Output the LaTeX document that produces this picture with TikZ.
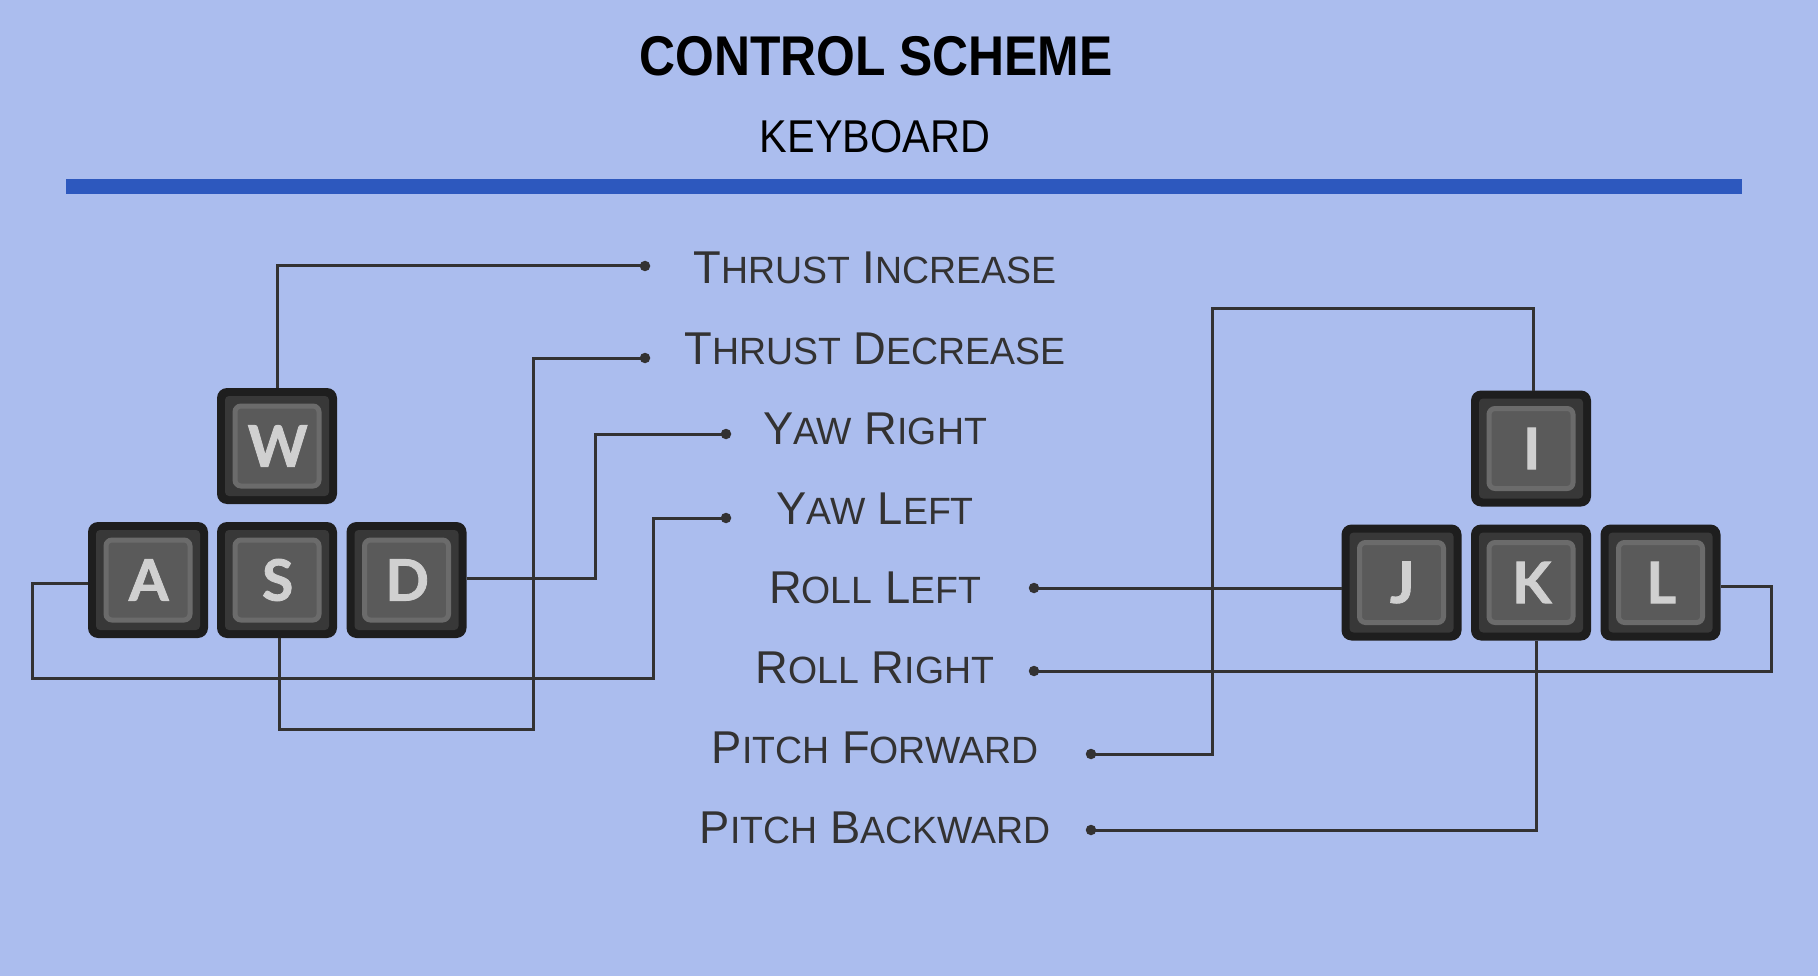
\documentclass[tikz,border=0pt]{standalone}
\usepackage{fontspec}
\setmainfont[FakeStretch=0.985]{Liberation Sans}
\newfontfamily\titlefont[FakeStretch=0.89]{Liberation Sans}
\newfontfamily\subtitlefont[FakeStretch=0.9]{Liberation Sans}
\newfontfamily\capfont[BoldFeatures={FakeBold=1.5}]{Lato}
\definecolor{pagebg}{HTML}{ABBDEE}
\definecolor{rulecol}{HTML}{2D58BE}
\definecolor{wirecol}{HTML}{333232}
\definecolor{keyrim}{HTML}{1E1E1E}
\definecolor{keyside}{HTML}{383838}
\definecolor{keyedge}{HTML}{6B6B6B}
\definecolor{keyface}{HTML}{5A5A5A}
\definecolor{keyletter}{HTML}{D0D0D0}
% small part of the small caps
\newcommand{\sm}[1]{{\fontsize{38}{40}\selectfont #1}}
% one key: rim, side, face with the letter
\newcommand{\keycap}[3]{%
  \node[keyouter] (key#1) at (#2) {};
  \node[keymiddle] at (#2) {};
  \node[keyinner] at (#2) {\hspace{1.5pt}#3};
}
\tikzset{
  keyouter/.style={rectangle, fill=keyrim, rounded corners=10, minimum width=120, minimum height=116, inner sep=0, outer sep=0},
  keymiddle/.style={rectangle, fill=keyside, rounded corners=4, minimum width=104, minimum height=100, inner sep=0, outer sep=0},
  keyinner/.style={rectangle, draw=keyedge, line width=5, fill=keyface, rounded corners=6, minimum width=84, minimum height=80, inner sep=0, outer sep=0,
    text=keyletter, font=\capfont\bfseries\fontsize{57}{57}\selectfont},
  wire/.style={draw=wirecol, line width=3},
  enddot/.style={circle, fill=wirecol, minimum size=10.5, inner sep=0, outer sep=0},
  action/.style={anchor=base, text=wirecol, font=\fontsize{46}{48}\selectfont, inner sep=0},
}
\begin{document}
\begin{tikzpicture}[x=1pt, y=-1pt]
    \useasboundingbox (0,0) rectangle (1818,976);
    \fill[pagebg] (0,0) rectangle (1818,976);

    % Heading
    \node[anchor=base, inner sep=0, font=\titlefont\bfseries\fontsize{56}{58}\selectfont] (title) at (876,76) {CONTROL SCHEME};
    \node[anchor=base, inner sep=0, font=\subtitlefont\fontsize{46}{48}\selectfont] (subtitle) at (875,153) {KEYBOARD};
    \fill[rulecol] (66,179) rectangle (1742,194);

    % Left keys
    \keycap{W}{277,446}{W}
    \keycap{A}{148,580}{A}
    \keycap{S}{277,580}{S}
    \keycap{D}{406.5,580}{D}

    % Right keys
    \keycap{I}{1531,448.5}{I}
    \keycap{J}{1401.5,582.5}{J}
    \keycap{K}{1531,582.5}{K}
    \keycap{L}{1660.5,582.5}{L}

    % Actions
    \node[action] (thrustinc) at (875,284) {T\sm{HRUST} I\sm{NCREASE}};
    \node[action] (thrustdec) at (875,364) {T\sm{HRUST} D\sm{ECREASE}};
    \node[action] (yawright) at (875,444) {Y\sm{AW} R\sm{IGHT}};
    \node[action] (yawleft) at (875,524) {Y\sm{AW} L\sm{EFT}};
    \node[action] (rollleft) at (875,603.5) {R\sm{OLL} L\sm{EFT}};
    \node[action] (rollright) at (875,683.5) {R\sm{OLL} R\sm{IGHT}};
    \node[action] (pitchfwd) at (875,763.5) {P\sm{ITCH} F\sm{ORWARD}};
    \node[action] (pitchback) at (875,843.5) {P\sm{ITCH} B\sm{ACKWARD}};

    % Dots next to the actions
    \node[enddot] (dotthrustinc) at (645,266) {};
    \node[enddot] (dotthrustdec) at (645,358) {};
    \node[enddot] (dotyawright) at (726,434) {};
    \node[enddot] (dotyawleft) at (726,518) {};
    \node[enddot] (dotrollleft) at (1034,588) {};
    \node[enddot] (dotrollright) at (1034,671) {};
    \node[enddot] (dotpitchfwd) at (1091,754) {};
    \node[enddot] (dotpitchback) at (1091,830) {};

    % Bends
    \coordinate (bendS) at (533,729);
    \coordinate (bendDa) at (595,578);
    \coordinate (bendAa) at (32,583);
    \coordinate (bendAb) at (32,678);
    \coordinate (bendAc) at (653,678);
    \coordinate (bendLa) at (1771,586);
    \coordinate (bendLb) at (1771,671);
    \coordinate (bendIa) at (1212,754);
    \coordinate (bendIb) at (1212,309);
    \coordinate (bendIc) at (1533,309);
    \coordinate (bendK) at (1536,830);

    % Wires from keys to actions
    \draw[wire] (keyW.north) |- (dotthrustinc.center);
    \draw[wire] ([xshift=2]keyS.south) |- (bendS) |- (dotthrustdec.center);
    \draw[wire] ([yshift=2]keyD.east) -- (bendDa) |- (dotyawright.center);
    \draw[wire] ([yshift=-3]keyA.west) -- (bendAa) -- (bendAb) -- (bendAc) |- (dotyawleft.center);
    \draw[wire] ([yshift=-5.5]keyJ.west) -- (dotrollleft.center);
    \draw[wire] ([yshift=-3.5]keyL.east) -- (bendLa) -- (bendLb) -- (dotrollright.center);
    \draw[wire] ([xshift=2]keyI.north) -- (bendIc) -- (bendIb) -- (bendIa) -- (dotpitchfwd.center);
    \draw[wire] ([xshift=5]keyK.south) -- (bendK) -- (dotpitchback.center);
\end{tikzpicture}
\end{document}
